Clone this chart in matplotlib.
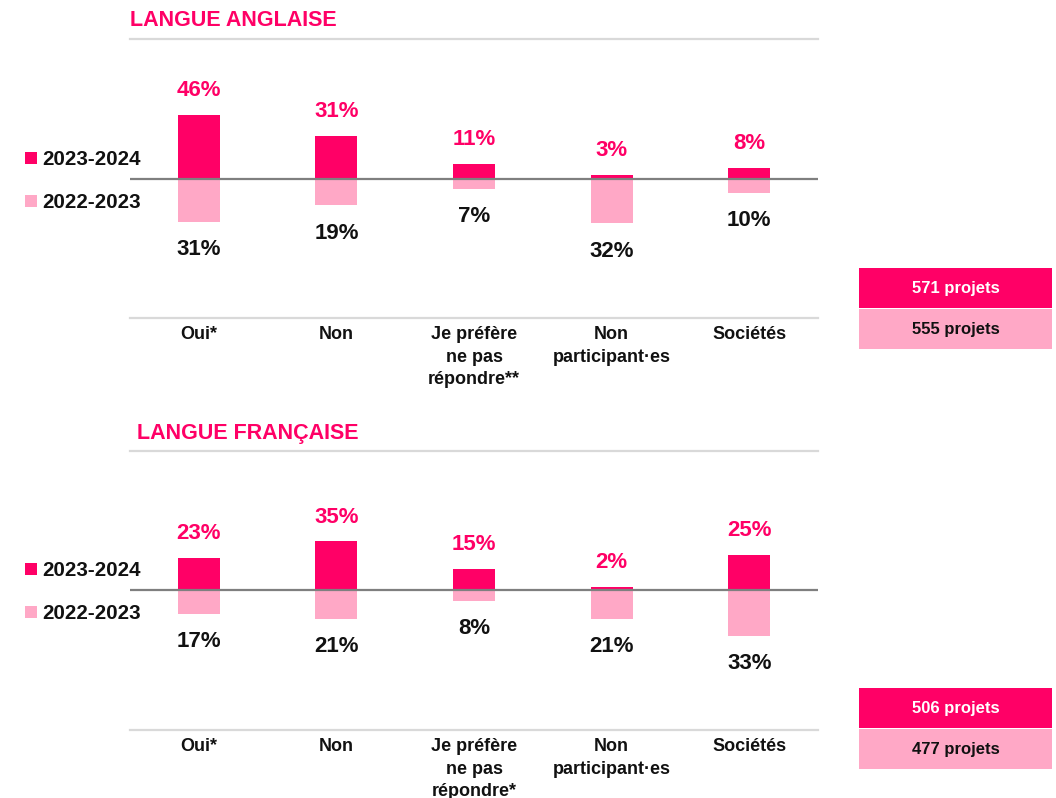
import matplotlib
matplotlib.use("Agg")
import matplotlib.pyplot as plt
from matplotlib.patches import Rectangle

# ---------------- data ----------------
categories_en = ["Oui*", "Non", "Je préfère\nne pas\nrépondre**", "Non\nparticipant·es", "Sociétés"]
categories_fr = ["Oui*", "Non", "Je préfère\nne pas\nrépondre*", "Non\nparticipant·es", "Sociétés"]
en_2024 = [46, 31, 11, 3, 8]
en_2023 = [31, 19, 7, 32, 10]
fr_2024 = [23, 35, 15, 2, 25]
fr_2023 = [17, 21, 8, 21, 33]
series_names = ["2023-2024", "2022-2023"]
projects_en = ["571 projets", "555 projets"]
projects_fr = ["506 projets", "477 projets"]
titles = ["LANGUE ANGLAISE", "LANGUE FRANÇAISE"]

DARK = "#FF0066"
LIGHT = "#FFA8C6"
FONT = ["Liberation Sans", "DejaVu Sans"]
plt.rcParams["font.family"] = FONT

W, H = 1056, 798
fig = plt.figure(figsize=(W / 100, H / 100), dpi=100)


def fx(px):
    return px / W


def fy(py):
    return 1 - py / H


def panel(top_px, bot_px, cats, v_new, v_old, title, title_x, proj, box_top, ylim):
    ax = fig.add_axes([fx(130), fy(bot_px), fx(818) - fx(130), fy(top_px) - fy(bot_px)])
    xs = [i + 0.5 for i in range(len(cats))]
    bw = 0.305
    ax.bar(xs, v_new, width=bw, color=DARK, zorder=2)
    ax.bar(xs, [-v for v in v_old], width=bw, color=LIGHT, zorder=2)
    ax.axhline(0, color="#7f7f7f", lw=1.6, zorder=3)
    for x, v in zip(xs, v_new):
        ax.annotate(f"{v}%", (x, v), xytext=(0, 17.5), textcoords="offset points",
                    ha="center", va="center", fontsize=16, fontweight="bold", color=DARK)
    for x, v in zip(xs, v_old):
        ax.annotate(f"{v}%", (x, -v), xytext=(0, -20), textcoords="offset points",
                    ha="center", va="center", fontsize=16, fontweight="bold", color="#111111")
    ax.set_xlim(0, len(cats))
    ax.set_ylim(*ylim)
    ax.set_yticks([])
    ax.set_xticks(xs)
    ax.set_xticklabels(cats, fontsize=13, fontweight="bold", color="#111111", linespacing=1.4)
    ax.tick_params(axis="x", length=0, pad=6)
    for s in ["left", "right"]:
        ax.spines[s].set_visible(False)
    for s in ["top", "bottom"]:
        ax.spines[s].set_color("#d9d9d9")
        ax.spines[s].set_linewidth(1.6)
    ax.patch.set_alpha(0)

    # title
    fig.text(fx(title_x), fy(top_px - 18), title, fontsize=15.5, fontweight="bold",
             color=DARK, ha="left", va="center")

    # legend
    zero_px = top_px + (bot_px - top_px) * ylim[1] / (ylim[1] - ylim[0])
    for name, col, dy in zip(series_names, [DARK, LIGHT], [-21, 22]):
        cy = zero_px + dy
        fig.add_artist(Rectangle((fx(25), fy(cy + 6)), fx(12), fy(0) - fy(12),
                                 transform=fig.transFigure, color=col, lw=0))
        fig.text(fx(42), fy(cy + 1.5), name, fontsize=14.8, fontweight="bold",
                 color="#111111", ha="left", va="center")

    # project boxes
    for i, (txt, col, tcol) in enumerate(zip(proj, [DARK, LIGHT], ["white", "#111111"])):
        t = box_top + i * 41
        fig.add_artist(Rectangle((fx(859), fy(t + 40)), fx(1052) - fx(859), fy(0) - fy(40),
                                 transform=fig.transFigure, color=col, lw=0))
        fig.text(fx(955.5), fy(t + 20.5), txt, fontsize=12, fontweight="bold",
                 color=tcol, ha="center", va="center")


panel(39, 318, categories_en, en_2024, en_2023, titles[0], 130, projects_en, 268, (-100, 100.7))
panel(451, 730, categories_fr, fr_2024, fr_2023, titles[1], 137, projects_fr, 688, (-100.7, 100))

fig.savefig("out.png", dpi=100, facecolor="white")
